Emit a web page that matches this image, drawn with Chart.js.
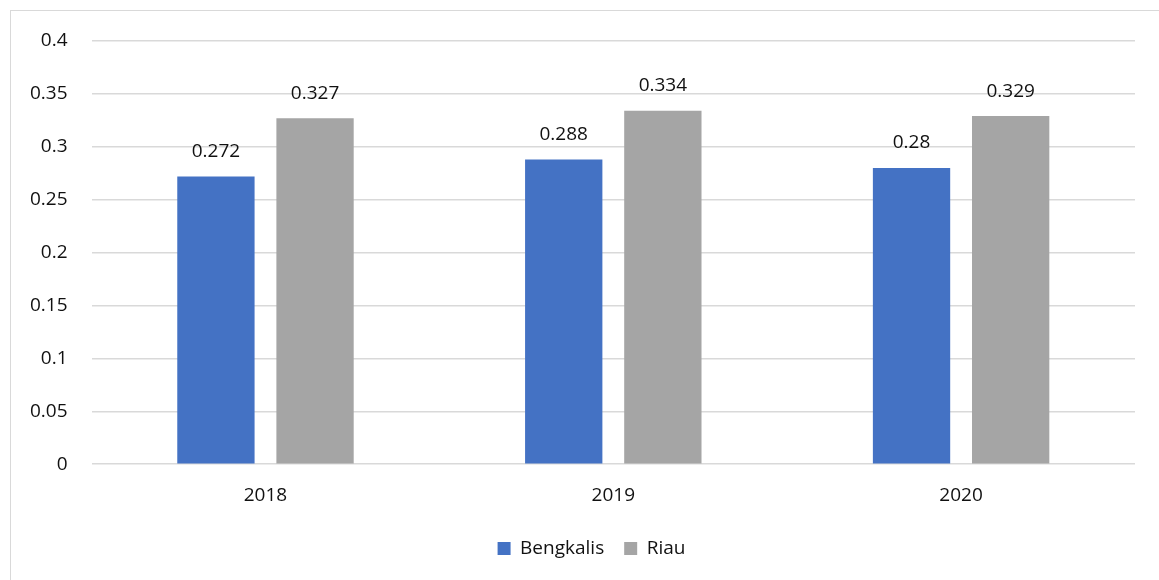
<!DOCTYPE html>
<html>
<head>
<meta charset="utf-8">
<script src="https://cdn.jsdelivr.net/npm/chart.js@4"></script>
<style>
  html, body { margin: 0; padding: 0; background: #fff; overflow: hidden; }
  #wrap { position: relative; width: 1159px; height: 580px; }
  #frame { position: absolute; left: 10px; top: 10px; width: 1200px; height: 600px; border: 1px solid #d9d9d9; }
  canvas { position: absolute; left: 0; top: 0; }
</style>
</head>
<body>
<div id="wrap">
  <div id="frame"></div>
  <canvas id="chart" width="1159" height="580"></canvas>
</div>
<script>
const years = ['2018', '2019', '2020'];
const bengkalis = [0.272, 0.288, 0.28];
const riau = [0.327, 0.334, 0.329];

const FONT = '"Open Sans", "Noto Sans", sans-serif';
const TEXT = '#111';
const SIZE = 19;

// value labels above each bar
const barLabels = {
  id: 'barLabels',
  afterDatasetsDraw(chart) {
    const ctx = chart.ctx;
    ctx.save();
    ctx.font = SIZE + 'px ' + FONT;
    ctx.fillStyle = TEXT;
    ctx.textAlign = 'center';
    ctx.textBaseline = 'middle';
    chart.data.datasets.forEach((ds, i) => {
      chart.getDatasetMeta(i).data.forEach((bar, j) => {
        ctx.fillText(String(ds.data[j]), bar.x, bar.y - 25);
      });
    });
    ctx.restore();
  }
};

// legend sits centred on the whole frame, a little right of the plot centre
const legendShift = {
  id: 'legendShift',
  afterLayout(chart) {
    chart.legend.left += 21;
    chart.legend.right += 21;
  }
};

new Chart(document.getElementById('chart'), {
  type: 'bar',
  data: {
    labels: years,
    datasets: [
      { label: 'Bengkalis', data: bengkalis, backgroundColor: '#4472c4' },
      { label: 'Riau', data: riau, backgroundColor: '#a5a5a5' }
    ]
  },
  options: {
    responsive: false,
    animation: false,
    categoryPercentage: 0.57,
    barPercentage: 0.78,
    layout: { padding: { left: 6, right: 24, top: 41, bottom: 12 } },
    plugins: {
      legend: {
        position: 'bottom',
        labels: { boxWidth: 13, boxHeight: 13, padding: 20, color: TEXT, font: { family: FONT, size: SIZE } }
      },
      tooltip: { enabled: false }
    },
    scales: {
      x: {
        grid: { display: false },
        border: { display: false },
        ticks: { color: TEXT, padding: 12, font: { family: FONT, size: SIZE } }
      },
      y: {
        min: 0,
        max: 0.4,
        grid: { color: '#d9d9d9', lineWidth: 1.5, drawTicks: false },
        border: { display: false },
        ticks: {
          stepSize: 0.05,
          padding: 24,
          color: TEXT,
          font: { family: FONT, size: SIZE },
          callback: v => String(+v.toFixed(2))
        }
      }
    }
  },
  plugins: [barLabels, legendShift]
});
</script>
</body>
</html>
